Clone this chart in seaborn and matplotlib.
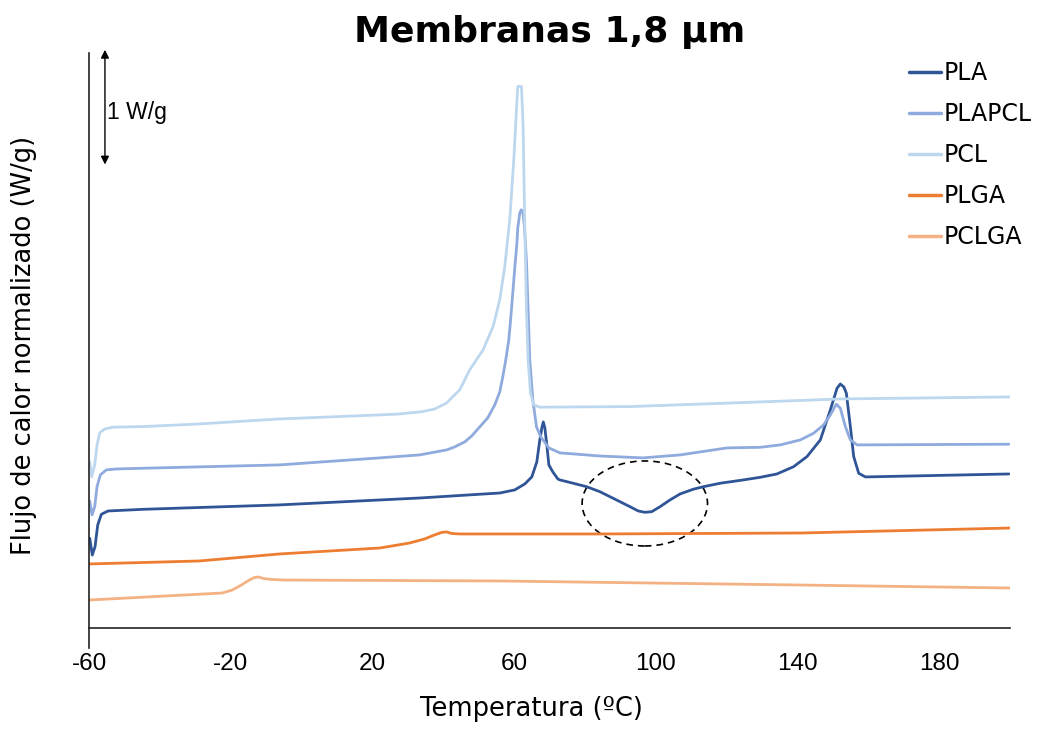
import numpy as np
import pandas as pd
import seaborn as sns
import matplotlib.pyplot as plt
from matplotlib.patches import Ellipse

# DSC curves (temperature in ºC, heat flow in W/g, offset per curve)
pla_t = [-60, -59.8, -59.07, -58.3, -57.54, -56.52, -54.63, -44.73, -6.27, 33.33, 55.95,
         60.19, 63.02, 65.0, 66.41, 67.26, 67.83, 68.25, 68.68, 69.24, 69.81, 70.94, 72.35,
         72.92, 76.68, 80.47, 84.23, 87.06, 89.89, 92.71, 95.06, 96.96, 98.85, 101.2,
         104.03, 106.86, 110.62, 113.45, 118.17, 124.76, 129.48, 134.2, 138.9, 142.69,
         146.45, 149.28, 151.17, 152.1, 153.1, 153.8, 154.93, 155.87, 157.28, 159.17, 199.7]
pla_y = [0.74, 0.754, 0.613, 0.683, 0.866, 0.955, 0.983, 0.997, 1.034, 1.092, 1.134,
         1.16, 1.21, 1.269, 1.395, 1.58, 1.681, 1.731, 1.681, 1.538, 1.37, 1.311, 1.252,
         1.244, 1.216, 1.187, 1.145, 1.103, 1.061, 1.019, 0.983, 0.972, 0.977, 1.019,
         1.076, 1.126, 1.166, 1.187, 1.216, 1.244, 1.266, 1.294, 1.355, 1.44,
         1.58, 1.832, 2.014, 2.05, 2.024, 1.972, 1.692, 1.44, 1.30, 1.269, 1.294]

plapcl_t = [-60, -59.8, -59.15, -58.39, -57.74, -56.8, -55.11, -52.28, -44.73, -6.27, 22.01,
            33.33, 40.96, 43.22, 46.05, 48.03, 50.29, 52.56, 54.54, 55.95, 56.8, 57.65, 58.5,
            59.06, 59.63, 60.19, 60.76, 61.04, 61.61, 62.03, 62.45, 62.88, 63.48, 64.43,
            65.28, 66.33, 67.54, 69.81, 72.92, 84.23, 96.39, 106.86, 120.15, 129.48, 135.14,
            140.79, 144.55, 147.38, 149.28, 150.97, 152.1, 153.52, 154.93, 156.83, 199.7]
plapcl_y = [1.05, 1.067, 0.95, 1.019, 1.187, 1.286, 1.328, 1.336, 1.342, 1.37, 1.429,
            1.454, 1.496, 1.521, 1.563, 1.613, 1.689, 1.765, 1.874, 1.983, 2.109, 2.252, 2.42,
            2.605, 2.815, 3.025, 3.218, 3.361, 3.487, 3.513, 3.496, 3.387, 3.092, 2.252,
            1.916, 1.689, 1.605, 1.513, 1.471, 1.445, 1.429, 1.454, 1.513, 1.518, 1.538,
            1.58, 1.636, 1.706, 1.79, 1.88, 1.846, 1.692, 1.58, 1.538, 1.544]

pcl_t = [-60, -59.8, -59.24, -58.39, -57.74, -56.97, -55.56, -53.21, -44.73, -28.9, -6.2,
         22.01, 27.67, 34.17, 37.57, 40.88, 44.64, 47.47, 51.23, 54.06, 55.95, 57.36, 58.78,
         59.91, 60.67, 61.04, 62.09, 62.54, 63.02, 63.48, 63.95, 64.63, 65.57, 67.26,
         92.71, 129.48, 152.1, 199.9]
pcl_y = [1.39, 1.397, 1.271, 1.37, 1.538, 1.639, 1.672, 1.687, 1.692, 1.714, 1.756,
         1.79, 1.798, 1.818, 1.84, 1.888, 2.0, 2.168, 2.336, 2.532, 2.756, 3.036, 3.429,
         3.933, 4.353, 4.549, 4.549, 4.213, 3.372, 2.672, 2.252, 1.972, 1.874, 1.855,
         1.86, 1.899, 1.924, 1.941]

plga_t = [-60, -28.9, -6.2, 22.1, 30.5, 34.74, 37.57, 39.55, 40.96, 42.38, 44.64, 84.4,
          141.0, 200]
plga_y = [0.538, 0.563, 0.622, 0.672, 0.714, 0.748, 0.782, 0.803, 0.807, 0.794, 0.79,
          0.79, 0.798, 0.84]

pclga_t = [-60, -22.39, -19.56, -17.01, -14.75, -13.34, -12.21, -10.79, -8.53, -4.85, 56.0,
           141.0, 200]
pclga_y = [0.235, 0.294, 0.319, 0.361, 0.403, 0.424, 0.429, 0.416, 0.408, 0.403, 0.395,
           0.361, 0.336]

names = ['PLA', 'PLAPCL', 'PCL', 'PLGA', 'PCLGA']
colors = ['#2f5597', '#8faadc', '#bdd7ee', '#ed7d31', '#f4b183']
xticks = [-60, -20, 20, 60, 100, 140, 180]

frames = []
for name, t, y in zip(names, [pla_t, plapcl_t, pcl_t, plga_t, pclga_t],
                      [pla_y, plapcl_y, pcl_y, plga_y, pclga_y]):
    frames.append(pd.DataFrame({'T': t, 'flujo': y, 'muestra': name}))
df = pd.concat(frames, ignore_index=True)

sns.set_style('white')
plt.rcParams['text.color'] = 'black'
plt.rcParams['xtick.color'] = 'black'
plt.rcParams['axes.labelcolor'] = 'black'
txt_font = ['DejaVu Sans']
num_font = ['Liberation Sans', 'DejaVu Sans']

fig = plt.figure(figsize=(10.46, 7.29), dpi=100)
ax = fig.add_axes([0.0851, 0.1111, 0.8805, 0.8162])

sns.lineplot(data=df, x='T', y='flujo', hue='muestra', hue_order=names,
             palette=dict(zip(names, colors)), estimator=None, sort=False,
             linewidth=2, ax=ax, legend=False)

ax.set_xlim(-60, 200)
ax.set_ylim(-0.168, 4.83)

for s in ['top', 'right']:
    ax.spines[s].set_visible(False)
ax.spines['bottom'].set_position(('data', 0))
for s in ['bottom', 'left']:
    ax.spines[s].set_color('#222222')
    ax.spines[s].set_linewidth(1.2)

ax.set_yticks([])
ax.set_xticks(xticks)
ax.set_xticklabels([str(v) for v in xticks])
ax.tick_params(axis='x', direction='out', length=6, width=1, color='#222222', pad=12,
               labelsize=17.5, labelcolor='black')
for lab in ax.get_xticklabels():
    lab.set_family(num_font)

ax.set_xlabel('Temperatura (ºC)', family=txt_font, fontsize=18.5, color='black')
ax.xaxis.set_label_coords(0.48, -0.08)
ax.set_ylabel('Flujo de calor normalizado (W/g)', family=txt_font, fontsize=18.5,
              color='black')
ax.yaxis.set_label_coords(-0.056, 0.509)
ax.set_title('Membranas 1,8 µm', family=txt_font, fontsize=26, fontweight='bold', pad=8,
             color='black')

# scale bar
ax.annotate('', xy=(-55.5, 4.88), xytext=(-55.5, 3.87),
            arrowprops=dict(arrowstyle='<|-|>', color='black', lw=1, mutation_scale=12),
            annotation_clip=False)
ax.text(-54.8, 4.33, '1 W/g', family=num_font, fontsize=16.5, va='center', ha='left',
        color='black')

# dashed ellipse around the cold crystallisation of PLA
ax.add_patch(Ellipse((96.9, 1.046), 35.4, 0.714, fill=False, ls=(0, (4, 3)),
                     lw=1.2, color='black'))

handles = [plt.Line2D([], [], color=c, lw=2.5) for c in colors]
ax.legend(handles, names, loc='upper left', bbox_to_anchor=(0.849, 0.945),
          bbox_transform=fig.transFigure, frameon=False, handlelength=1.35,
          handletextpad=0.1, labelspacing=0.72, labelcolor='black',
          prop={'family': txt_font, 'size': 17})

fig.savefig('out.png', dpi=100)
